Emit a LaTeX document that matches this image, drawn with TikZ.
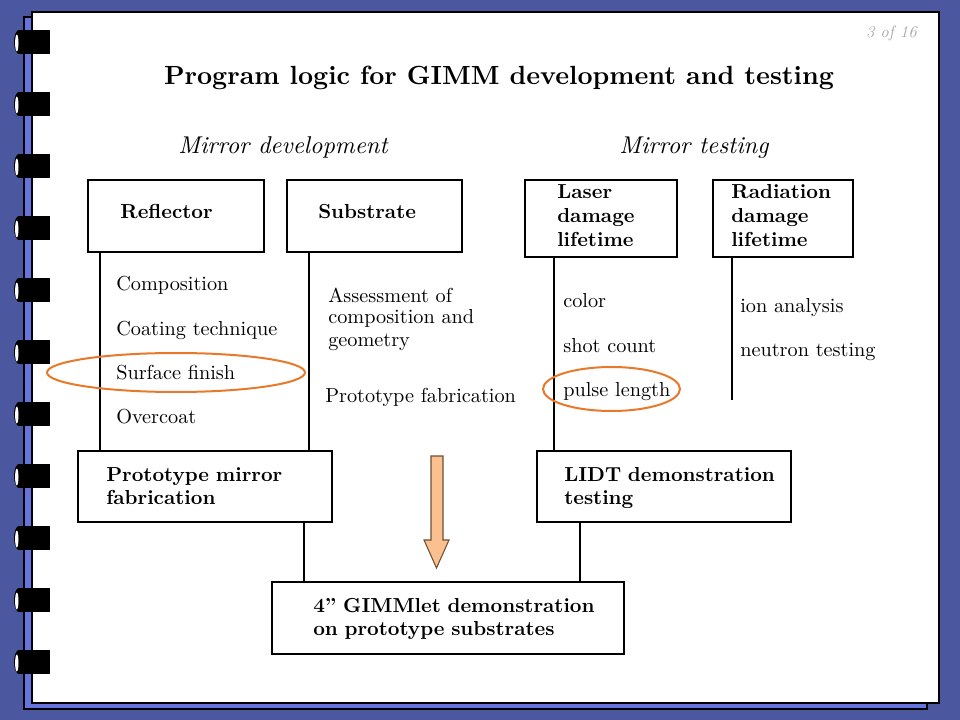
\documentclass[tikz,border=0pt]{standalone}
\usepackage{fontspec}
\setmainfont{lmroman10-regular}[Extension=.otf, BoldFont=lmroman10-bold, ItalicFont=lmroman10-italic, BoldItalicFont=lmroman10-bolditalic]
\usetikzlibrary{calc}
\definecolor{bgblue}{RGB}{75,88,160}
\definecolor{stripblue}{RGB}{102,117,222}
\definecolor{ringorange}{RGB}{232,121,42}
\definecolor{peach}{RGB}{250,192,144}
\definecolor{arrowedge}{RGB}{110,80,50}
\definecolor{pggray}{RGB}{170,170,170}
\begin{document}
\begin{tikzpicture}[x=0.75pt,y=-0.75pt,
  box/.style={draw, line width=1pt, inner sep=0pt, outer sep=0pt},
  txt/.style={anchor=base west, inner sep=0pt, font=\fontsize{15.2}{16.5}\selectfont},
  mtxt/.style={anchor=base west, inner sep=0pt, align=left, text width=220pt, font=\fontsize{15.2}{16.5}\selectfont},
  blbl/.style={anchor=base west, inner sep=0pt, align=left, text width=220pt, font=\fontsize{15.2}{17.25}\selectfont\bfseries},
  blbltall/.style={anchor=base west, inner sep=0pt, align=left, text width=220pt, font=\fontsize{15.2}{18}\selectfont\bfseries},
  heading/.style={anchor=base west, inner sep=0pt, font=\fontsize{18.2}{20}\selectfont\itshape},
  conn/.style={line width=1.5pt},
  hilite/.style={draw=ringorange, line width=1.5pt}
]
\useasboundingbox (0,0) rectangle (960,720);
% binder background
\fill[bgblue] (0,0) rectangle (960,720);
\filldraw[fill=stripblue, draw=black, line width=1.5pt] (24,17) rectangle (927,709);
\filldraw[fill=white, draw=black, line width=1.8pt] (32,12) rectangle (939,703);
% rings
\foreach \c in {42,104,...,662} {
  \fill[black] (19,\c-12) rectangle (50,\c+12);
  \fill[black] (19,\c) ellipse [x radius=5, y radius=12];
  \fill[white] (16.8,\c+1) ellipse [x radius=1.7, y radius=8.5];
}
% page number and titles
\node[anchor=base east, inner sep=0pt, text=pggray, font=\fontsize{12.4}{14}\selectfont\itshape] (pg) at (917,38) {3 of 16};
\node[anchor=base, inner sep=0pt, font=\fontsize{19.7}{22}\selectfont\bfseries] (title) at (499,85) {Program logic for GIMM development and testing};
\node[heading] (hdev) at (178,154) {Mirror development};
\node[heading] (htest) at (619,154) {Mirror testing};
% boxes
\node[box, minimum width=132pt, minimum height=54pt] (refl) at (176,216) {};
\node[box, minimum width=131.25pt, minimum height=54pt] (subs) at (374.5,216) {};
\node[box, minimum width=114pt, minimum height=57.75pt] (laser) at (601,218.5) {};
\node[box, minimum width=105pt, minimum height=57.75pt] (rad) at (783,218.5) {};
\node[box, minimum width=190.5pt, minimum height=53.25pt] (proto) at (205,486.5) {};
\node[box, minimum width=190.5pt, minimum height=53.25pt] (lidt) at (664,486.5) {};
\node[box, minimum width=264pt, minimum height=54pt] (gimm) at (448,618) {};
% box labels
\node[blbl] (treflector) at (120,219) {Reflector};
\node[blbl] (tsubstrate) at (318,219) {Substrate};
\node[blbltall] (tlaser) at (557,199) {Laser\\damage\\lifetime};
\node[blbltall] (trad) at (731,199) {Radiation\\damage\\lifetime};
\node[blbl] (tproto) at (106,481) {Prototype mirror\\fabrication};
\node[blbl] (tlidt) at (564,481) {LIDT demonstration\\testing};
\node[blbl] (tgimm) at (313,612) {4” GIMMlet demonstration\\on prototype substrates};
% item texts
\node[txt] (i1) at (116,291) {Composition};
\node[txt] (i2) at (116,335) {Coating technique};
\node[txt] (i3) at (116,379) {Surface finish};
\node[txt] (i4) at (116,423) {Overcoat};
\node[mtxt] (s1t) at (328,302) {Assessment of\\composition and\\geometry};
\node[txt] (s2t) at (325,402) {Prototype fabrication};
\node[txt] (l1t) at (563,307) {color};
\node[txt] (l2t) at (563,352) {shot count};
\node[txt] (l3t) at (563,396) {pulse length};
\node[txt] (r1t) at (740,312) {ion analysis};
\node[txt] (r2t) at (740,356) {neutron testing};
% connectors
\coordinate (cr) at ($(refl.south west)+(12,0)$);
\coordinate (cs) at ($(subs.south west)+(22,0)$);
\coordinate (cl) at ($(laser.south west)+(29,0)$);
\coordinate (cra) at ($(rad.south west)+(19,0)$);
\coordinate (craend) at (732,400);
\coordinate (cp) at ($(proto.south west)+(226,0)$);
\coordinate (cd) at ($(lidt.south west)+(43,0)$);
\draw[conn] (cr) -- (cr |- proto.north);
\draw[conn] (cs) -- (cs |- proto.north);
\draw[conn] (cl) -- (cl |- lidt.north);
\draw[conn] (cra) -- (craend);
\draw[conn] (cp) -- (cp |- gimm.north);
\draw[conn] (cd) -- (cd |- gimm.north);
% block arrow
\filldraw[fill=peach, draw=arrowedge, line width=0.8pt] (431,456) -- (443,456) -- (443,540) -- (449,540) -- (436.5,568) -- (424,540) -- (431,540) -- cycle;
% highlight ellipses
\draw[hilite] (176,372.5) ellipse [x radius=129, y radius=19.5];
\draw[hilite] (611.5,389) ellipse [x radius=68.5, y radius=22];
\end{tikzpicture}
\end{document}
